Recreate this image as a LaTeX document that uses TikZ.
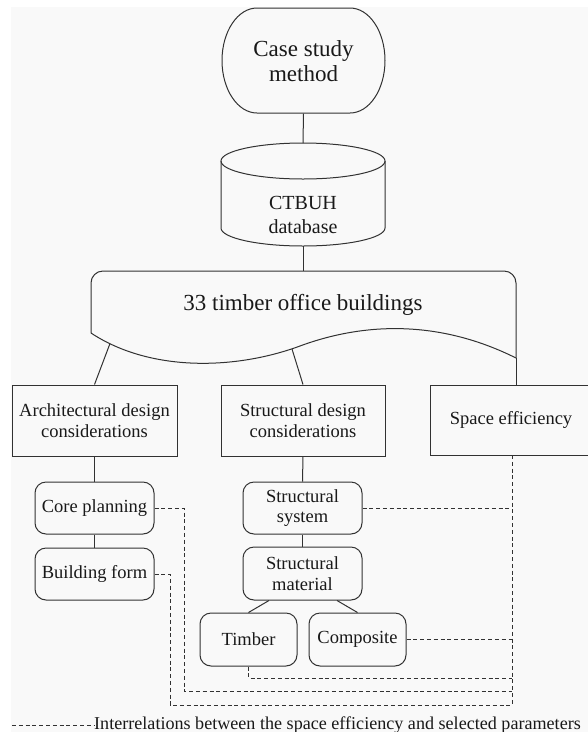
\documentclass[tikz,border=0pt]{standalone}
\usepackage{fontspec}
\setmainfont{Liberation Serif}
\usetikzlibrary{calc}
\definecolor{bgc}{RGB}{249,249,249}
\definecolor{lnc}{RGB}{50,50,50}
\definecolor{txc}{RGB}{25,25,25}
\begin{document}
\begin{tikzpicture}[x=1pt,y=-1pt,
  ln/.style={draw=lnc,line width=1pt},
  dl/.style={draw=lnc,line width=1pt,dash pattern=on 4pt off 2.8pt},
  txt/.style={text=txc,font=\fontsize{18.5}{20.5}\selectfont,align=center,inner sep=0pt},
  sqbox/.style={txt,draw=lnc,line width=1pt,minimum width=165pt,minimum height=71pt},
  rbox/.style={txt,draw=lnc,line width=1pt,rounded corners=11pt,minimum width=119pt,minimum height=52pt},
]
\useasboundingbox (0,0) rectangle (588,732);
\clip (0,0) rectangle (588,732);
\fill[white] (0,0) rectangle (588,732);
\fill[bgc] (11,7) rectangle (588,732);

% Case study method
\node[txt,font=\fontsize{23}{25.5}\selectfont,minimum width=163pt,minimum height=105pt] (case) at (303.5,61) {Case study\\method};
\draw[ln] (257,8) -- (350,8) .. controls (369.3,8) and (385,31.5) .. (385,60.5) .. controls (385,89.5) and (369.3,113) .. (350,113) -- (257,113) .. controls (237.7,113) and (222,89.5) .. (222,60.5) .. controls (222,31.5) and (237.7,8) .. (257,8) -- cycle;

% Cylinder
\coordinate (dbtop) at (303,143);
\coordinate (dbbot) at (303,246);
\draw[ln] (303,161) ellipse [x radius=82, y radius=18];
\draw[ln] (221,161) -- (221,228) .. controls (221,237.9) and (257.7,246) .. (303,246) .. controls (348.3,246) and (385,237.9) .. (385,228) -- (385,161);
\node[txt,font=\fontsize{20}{24}\selectfont] (db) at (303,215) {CTBUH\\database};

% Wave box
\draw[ln,rounded corners=12pt] (91,333) -- (91,271) -- (516,271) -- (516,358);
\draw[ln] (91,333) .. controls (150,372) and (235,370) .. (300,346) .. controls (365,322) and (440,320) .. (516,358);
\node[txt,font=\fontsize{23}{26}\selectfont] (wave) at (303,305) {33 timber office buildings};
\coordinate (wtop) at (303,271);
\coordinate (w1) at (110,343.5);
\coordinate (w2) at (292,349);
\coordinate (wr) at (516,358);

% Boxes
\node[sqbox] (arch) at (94.5,420.5) {Architectural design\\considerations};
\node[sqbox,minimum width=164pt] (struct) at (303,420.5) {Structural design\\considerations};
\node[sqbox,minimum width=162pt,minimum height=70pt] (space) at (511,420) {Space efficiency};

\node[rbox] (core) at (94.5,508) {Core planning};
\node[rbox] (form) at (94.5,574) {Building form};
\node[rbox] (sys) at (302.5,508) {Structural\\system};
\node[rbox,minimum height=53pt] (mat) at (302.5,573.5) {Structural\\material};
\node[rbox,minimum width=97pt,minimum height=53pt] (timber) at (248.5,639.5) {Timber};
\node[rbox,minimum width=97pt,minimum height=53pt] (comp) at (357.5,639.5) {Composite};

% Solid connectors
\draw[ln] (case.south) -- (dbtop);
\draw[ln] (dbbot) -- (wtop);
\draw[ln] (w1) -- (arch.north);
\draw[ln] (w2) -- (struct.north);
\draw[ln] (wr) -- (wr |- space.north);
\draw[ln] (arch.south) -- (core.north);
\draw[ln] (core.south) -- (form.north);
\draw[ln] (struct.south) -- (sys.north);
\draw[ln] (sys.south) -- (mat.north);
\draw[ln] ($(mat.south)+(-33.5,0)$) -- (timber.north);
\draw[ln] ($(mat.south)+(34.5,0)$) -- (comp.north);

% Dashed interrelations
\coordinate (sx) at (512,455);
\coordinate (sb) at (512,705);
\draw[dl] (sx) -- (sb);
\draw[dl] (sys.east) -- (sys.east -| sx);
\draw[dl] (comp.east) -- (comp.east -| sx);
\draw[dl] (timber.south) |- (512,678);
\draw[dl] (core.east) -| (184,691) -- (512,691);
\draw[dl] (form.east) -| (170,705) -- (sb);

% Legend
\coordinate (lg0) at (12,725.5);
\coordinate (lg1) at (94,725.5);
\draw[dl] (lg0) -- (lg1);
\node[txt,font=\fontsize{18.1}{20}\selectfont,anchor=base west] (leg) at (94,729.5) {Interrelations between the space efficiency and selected parameters};
\end{tikzpicture}
\end{document}
